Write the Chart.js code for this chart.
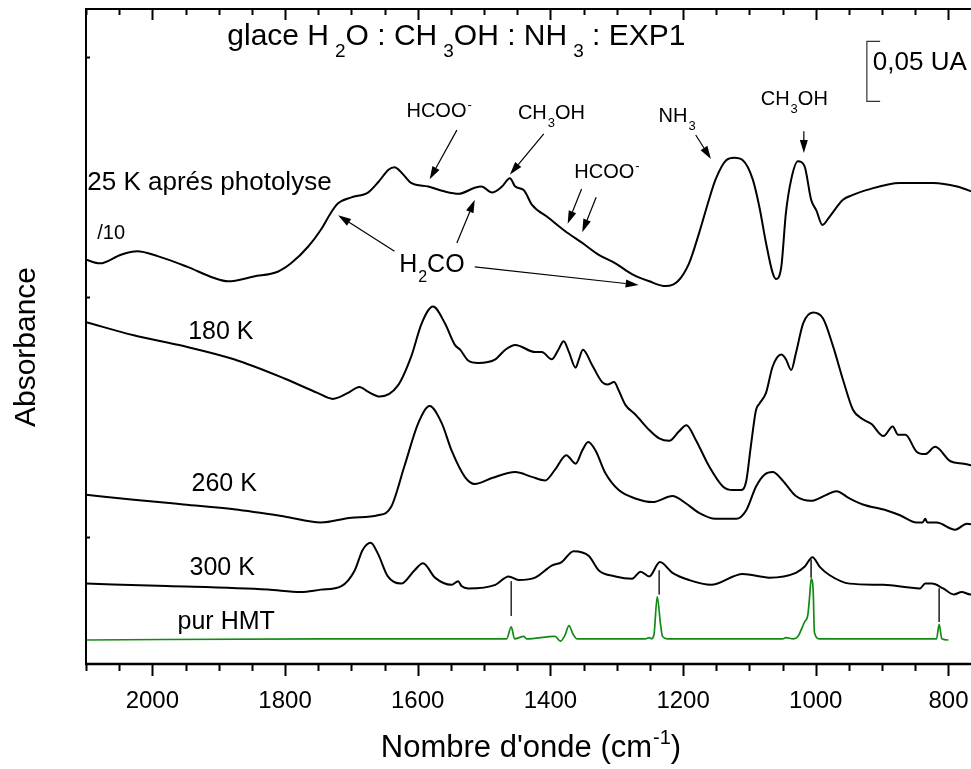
<!DOCTYPE html>
<html>
<head>
<meta charset="utf-8">
<script src="https://cdn.jsdelivr.net/npm/chart.js@4.4.0/dist/chart.umd.min.js"></script>
<style>
html, body { margin: 0; padding: 0; overflow: hidden; background: #fff; }
canvas { display: block; }
</style>
</head>
<body>
<canvas id="spectra" width="980" height="769"></canvas>
<script>

const FONT = '"Liberation Sans", Arial, Helvetica, sans-serif';

// wavenumbers (cm-1) and stacked absorbance (mUA)
const wn25 = [2100,2079,2048,2023,1992,1947,1908,1886,1847,1811,1791,1765,1746,1731,1720,1700,1675,1659,1644,1635,1625,1610,1584,1560,1538,1514,1504,1488,1473,1461,1453,1440,1428,1403,1378,1352,1327,1302,1277,1251,1226,1208,1191,1176,1161,1151,1135,1123,1110,1095,1085,1075,1065,1060,1052,1045,1037,1027,1017,1007,999,990,979,959,944,924,873,823,787,761];
const abs25 = [231,228,235,238,234,225,216,213,217,221,228,242,256,270,278,283,287,296,306,308,304,295,292,288,286,291,292,287,292,299,292,289,277,266,255,245,235,228,219,213,209,213,228,253,281,298,314,316,314,298,275,245,220,215,225,270,298,313,309,281,272,260,267,281,285,289,295,295,292,287];

const wn180 = [2100,2028,1953,1877,1801,1751,1728,1705,1688,1675,1657,1630,1610,1594,1577,1559,1544,1536,1524,1509,1483,1468,1453,1423,1413,1398,1388,1380,1372,1362,1357,1351,1337,1322,1314,1304,1297,1287,1272,1251,1236,1221,1206,1195,1181,1161,1140,1125,1113,1105,1098,1090,1085,1075,1065,1052,1045,1037,1030,1019,1004,989,974,959,944,929,916,898,884,876,865,848,835,820,797,777,761];
const abs180 = [179,168,159,148,132,120,115,120,125,121,117,126,150,178,192,178,160,156,147,145,148,156,160,154,154,148,156,163,154,141,148,156,143,129,127,129,122,110,102,89,82,80,88,93,81,59,42,39,39,46,75,106,111,120,142,152,148,139,153,178,187,182,159,131,106,98,94,84,92,85,85,71,69,75,63,61,59];

const wn260 = [2100,2028,1953,1877,1801,1746,1700,1660,1640,1620,1599,1582,1564,1549,1529,1514,1488,1453,1428,1408,1393,1376,1362,1352,1343,1332,1317,1297,1272,1246,1216,1196,1176,1151,1120,1105,1090,1077,1065,1050,1030,1007,984,969,949,929,893,873,848,839,835,832,818,790,772,761];
const abs260 = [35,31,27,23,17,12,16,18,25,59,95,109,95,72,50,44,49,54,50,47,56,68,61,72,79,72,53,39,32,29,34,28,20,15,15,22,42,52,54,47,34,30,35,38,32,27,22,18,12,12,15,12,12,6,11,10];

const wn300 = [2100,1978,1826,1776,1746,1715,1695,1683,1671,1660,1645,1625,1605,1592,1574,1549,1539,1534,1524,1483,1463,1448,1423,1398,1383,1365,1342,1327,1302,1277,1264,1251,1235,1216,1191,1158,1110,1070,1030,1017,1005,994,979,949,898,843,835,825,808,792,780,767,761];
const abs300 = [-39,-41,-44,-46,-44,-41,-28,-11,-5,-14,-33,-39,-28,-22,-34,-40,-37,-41,-43,-40,-33,-36,-34,-24,-21,-12,-16,-28,-33,-35,-29,-33,-21,-30,-36,-40,-31,-34,-30,-25,-17,-25,-32,-39,-40,-43,-39,-39,-43,-48,-46,-48,-48];

const wnHMT = [2100,1746,1473,1466,1459,1454,1440,1436,1393,1385,1378,1372,1366,1360,1257,1251,1248,1244,1239,1234,1231,1224,1050,1045,1034,1027,1017,1012,1009,1007,1004,1002,994,818,814,810,800];
const absHMT = [-86,-85,-85,-85,-75,-85,-83,-85,-83,-87,-82,-74,-81,-85,-85,-84,-85,-82,-50,-73,-83,-85,-85,-84,-85,-83,-71,-65,-48,-35,-44,-80,-85,-85,-73,-85,-86];

// thin lines joining the HMT bands to the 300 K spectrum
const markWn = [1459, 1236, 1007, 814];
const markTop = [-37, -28, -19, -43];
const markBottom = [-66, -48, -34, -71];

const majorTicks = [2000, 1800, 1600, 1400, 1200, 1000, 800];
const yTicks = [0, 200, 400];

// text labels: position in (cm-1, mUA), size, pieces [text, 'sub'|'sup']
const labels = [
    { wn: 1887, v: 410, size: 30, gap: 6, parts: [['glace H'], ['2', 'sub'], ['O : CH'], ['3', 'sub'], ['OH : NH'], ['3', 'sub'], [' : EXP1']] },
    { wn: 2098, v: 289, size: 26, parts: [['25 K aprés photolyse']] },
    { wn: 2083, v: 248, size: 20, parts: [['/10']] },
    { wn: 1946, v: 165, size: 25, parts: [['180 K']] },
    { wn: 1941, v: 38, size: 25, parts: [['260 K']] },
    { wn: 1944, v: -32, size: 25, parts: [['300 K']] },
    { wn: 1962, v: -77, size: 25, parts: [['pur HMT']] },
    { wn: 1617, v: 350, size: 20, parts: [['HCOO'], ['-', 'sup']] },
    { wn: 1449, v: 348, size: 20, parts: [['CH'], ['3', 'sub'], ['OH']] },
    { wn: 1237, v: 346, size: 20, parts: [['NH'], ['3', 'sub']] },
    { wn: 1083, v: 360, size: 20, parts: [['CH'], ['3', 'sub'], ['OH']] },
    { wn: 1364, v: 299, size: 20, parts: [['HCOO'], ['-', 'sup']] },
    { wn: 1628, v: 221, size: 25, parts: [['H'], ['2', 'sub'], ['CO']] },
    { wn: 914, v: 389, size: 26, parts: [['0,05 UA']] }
];

// arrows: [from wn, from v, to wn, to v]
const arrows = [
    [1541, 339, 1582, 298],
    [1410, 336, 1461, 302],
    [1181, 335, 1158, 315],
    [1018, 338, 1018, 320],
    [1353, 290, 1374, 261],
    [1331, 283, 1352, 254],
    [1635, 238, 1720, 268],
    [1541, 245, 1514, 281],
    [1514, 225, 1267, 210]
];

// 0,05 UA scale bar
const barWn = 923;
const barTickWn = 903;
const barTop = 413;
const barBottom = 363;


function zip(xs, ys) {
    return xs.map((x, i) => ({ x: x, y: ys[i] }));
}

function drawRich(ctx, x, y, parts, size, gap, measureOnly) {
    let cx = x;
    ctx.textAlign = 'left';
    ctx.textBaseline = 'alphabetic';
    parts.forEach(p => {
        let t = p[0], kind = p[1];
        if (!kind) {
            ctx.font = size + 'px ' + FONT;
            if (!measureOnly) ctx.fillText(t, cx, y);
            cx += ctx.measureText(t).width;
        }
        else {
            let s = Math.round(size * 0.64);
            ctx.font = s + 'px ' + FONT;
            cx += gap;
            let dy = kind == 'sub' ? size * 0.4 : -size * 0.42;
            if (!measureOnly) ctx.fillText(t, cx, y + dy);
            cx += ctx.measureText(t).width;
        }
    });
    return cx - x;
}

function drawArrow(ctx, x1, y1, x2, y2) {
    let ang = Math.atan2(y2 - y1, x2 - x1);
    let len = 13, half = 4;
    let bx = x2 - len * Math.cos(ang), by = y2 - len * Math.sin(ang);
    ctx.beginPath();
    ctx.moveTo(x1, y1);
    ctx.lineTo(bx, by);
    ctx.stroke();
    ctx.beginPath();
    ctx.moveTo(x2, y2);
    ctx.lineTo(bx + half * Math.sin(ang), by - half * Math.cos(ang));
    ctx.lineTo(bx - half * Math.sin(ang), by + half * Math.cos(ang));
    ctx.closePath();
    ctx.fill();
}

const decor = {
    id: 'decor',
    afterDatasetsDraw(chart) {
        const ctx = chart.ctx;
        const xs = chart.scales.x, ys = chart.scales.y;
        const a = chart.chartArea;
        const px = v => xs.getPixelForValue(v);
        const py = v => ys.getPixelForValue(v);
        ctx.save();
        ctx.strokeStyle = '#000';
        ctx.fillStyle = '#000';

        // frame
        ctx.lineWidth = 2;
        ctx.beginPath();
        ctx.moveTo(a.left, a.top);
        ctx.lineTo(a.right, a.top);
        ctx.moveTo(a.left, a.top - 1);
        ctx.lineTo(a.left, a.bottom + 1);
        ctx.moveTo(a.right, a.top);
        ctx.lineTo(a.right, a.bottom);
        ctx.stroke();
        ctx.lineWidth = 2.5;
        ctx.beginPath();
        ctx.moveTo(a.left - 1, a.bottom);
        ctx.lineTo(a.right, a.bottom);
        ctx.stroke();

        // x ticks: out at the bottom, in at the top
        ctx.lineWidth = 2;
        ctx.beginPath();
        for (let v = 800; v <= 2100; v += 50) {
            let major = v % 200 == 0;
            let x = Math.round(px(v)) + 0.5;
            ctx.moveTo(x, a.bottom);
            ctx.lineTo(x, a.bottom + (major ? 12 : 7));
            ctx.moveTo(x, a.top);
            ctx.lineTo(x, a.top + (major ? 11 : 6));
        }
        // y ticks, short, inward
        yTicks.forEach(v => {
            let y = Math.round(py(v)) + 0.5;
            ctx.moveTo(a.left, y);
            ctx.lineTo(a.left + 4, y);
        });
        ctx.stroke();

        // arrows
        ctx.lineWidth = 1.2;
        arrows.forEach(r => drawArrow(ctx, px(r[0]), py(r[1]), px(r[2]), py(r[3])));

        // scale bar
        ctx.lineWidth = 1.2;
        ctx.strokeStyle = '#333';
        ctx.beginPath();
        ctx.moveTo(px(barTickWn), py(barTop));
        ctx.lineTo(px(barWn), py(barTop));
        ctx.lineTo(px(barWn), py(barBottom));
        ctx.lineTo(px(barTickWn), py(barBottom));
        ctx.stroke();

        // labels
        labels.forEach(l => drawRich(ctx, px(l.wn), py(l.v), l.parts, l.size, l.gap || 1));

        // axis titles
        const xTitle = [['Nombre d\'onde (cm'], ['-1', 'sup'], [')']];
        let w = drawRich(ctx, 0, 0, xTitle, 31, 1, true);
        drawRich(ctx, 531 - w / 2, 757, xTitle, 31, 1);

        ctx.translate(35, 347);
        ctx.rotate(-Math.PI / 2);
        ctx.font = '30px ' + FONT;
        ctx.textAlign = 'center';
        ctx.textBaseline = 'alphabetic';
        ctx.fillText('Absorbance', 0, 0);
        ctx.restore();
    }
};

const lineStyle = { borderColor: '#000', borderWidth: 2, pointRadius: 0, fill: false };

let datasets = [
    Object.assign({ data: zip(wn25, abs25) }, lineStyle),
    Object.assign({ data: zip(wn180, abs180) }, lineStyle),
    Object.assign({ data: zip(wn260, abs260) }, lineStyle),
    Object.assign({ data: zip(wn300, abs300) }, lineStyle),
    { data: zip(wnHMT, absHMT), borderColor: '#138a13', borderWidth: 1.7, pointRadius: 0, fill: false }
];
for (let i = 0; i < markWn.length; ++i) {
    datasets.push({
        data: [{ x: markWn[i], y: markTop[i] }, { x: markWn[i], y: markBottom[i] }],
        borderColor: '#333', borderWidth: 1, pointRadius: 0, fill: false, cubicInterpolationMode: 'default', tension: 0
    });
}

Chart.defaults.font.family = FONT;

const spectraChart = new Chart('spectra', {
    type: 'line',
    data: { datasets: datasets },
    options: {
        responsive: false,
        animation: false,
        devicePixelRatio: 1,
        layout: { padding: { top: 9, right: 5, left: 0, bottom: 0 } },
        plugins: { legend: { display: false }, tooltip: { enabled: false } },
        elements: { line: { cubicInterpolationMode: 'monotone' } },
        scales: {
            x: {
                type: 'linear',
                reverse: true,
                min: 760,
                max: 2100,
                grid: { display: false, drawTicks: false },
                border: { display: false },
                afterBuildTicks: s => { s.ticks = majorTicks.map(v => ({ value: v })); },
                afterFit: s => { s.height = 105; s.paddingLeft = 0; s.paddingRight = 0; },
                ticks: {
                    color: '#000',
                    font: { size: 24, family: FONT },
                    padding: 23,
                    autoSkip: false,
                    maxRotation: 0,
                    callback: v => String(v)
                }
            },
            y: {
                min: -106,
                max: 440,
                grid: { display: false, drawTicks: false },
                border: { display: false },
                ticks: { display: false },
                afterFit: s => { s.width = 86; s.paddingTop = 0; s.paddingBottom = 0; }
            }
        }
    },
    plugins: [decor]
});
</script>
</body>
</html>
